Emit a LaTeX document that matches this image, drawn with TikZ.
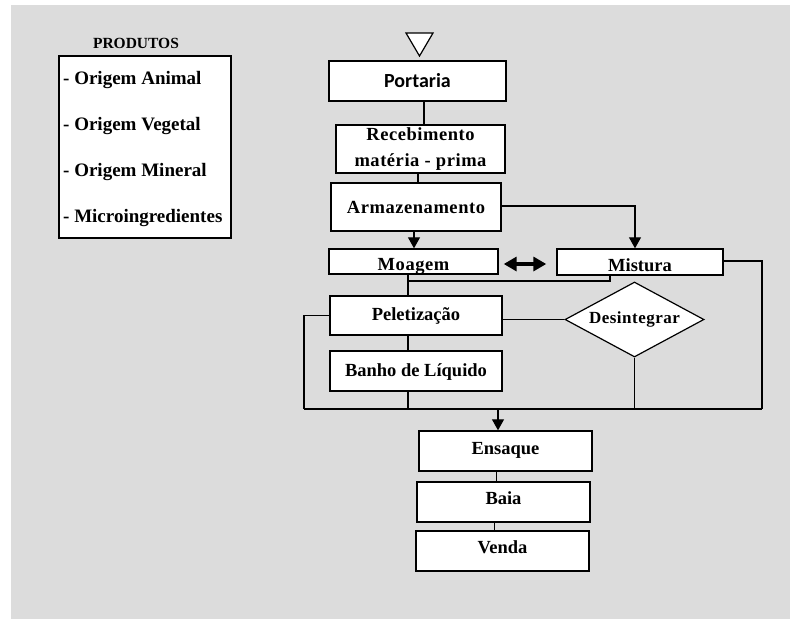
\documentclass[tikz,border=0pt]{standalone}
\usepackage{fontspec}
\setmainfont{Liberation Serif}
\newfontfamily\spacedfont[LetterSpace=3]{Liberation Serif Bold}
\newfontfamily\calfont{Carlito}
\usetikzlibrary{arrows.meta,shapes.geometric,calc}
\definecolor{bggray}{RGB}{220,220,220}
\begin{document}
\begin{tikzpicture}[x=1pt,y=-1pt,
  procbox/.style={draw=black,line width=1.4pt,fill=white,inner sep=0pt,
    font=\bfseries\fontsize{18.5}{22}\selectfont,text height=12.3pt,text depth=0pt},
  spbox/.style={procbox,font=\spacedfont\fontsize{18.5}{26}\selectfont,text height=12.2pt},
  conn/.style={line width=1.2pt},
  arr/.style={conn,-{Triangle[length=11pt,width=12pt]}},
  listtext/.style={anchor=base west,inner sep=0pt,font=\bfseries\fontsize{19}{22}\selectfont}]
\useasboundingbox (0,0) rectangle (790,619);
\fill[white] (0,0) rectangle (790,619);
\fill[bggray] (11,5) rectangle (790,619);

% Products list
\node[anchor=base,inner sep=0pt,font=\bfseries\fontsize{15.5}{18}\selectfont] (prodtitle) at (136,48) {PRODUTOS};
\node[draw=black,line width=1.4pt,fill=white,minimum width=172pt,minimum height=182pt,inner sep=0pt] (prodbox) at (145,147) {};
\node[listtext] (p1) at (63,84) {- Origem Animal};
\node[listtext] (p2) at (63,130) {- Origem Vegetal};
\node[listtext] (p3) at (63,176) {- Origem Mineral};
\node[listtext] (p4) at (63,222) {- Microingredientes};

% Start triangle
\draw[line width=1.2pt,fill=white] (406,33) -- (433,33) -- (419.5,56) -- cycle;

% Process boxes
\node[procbox,font=\calfont\bfseries\fontsize{20}{24}\selectfont,text height=12.9pt,minimum width=177pt,minimum height=40pt] (portaria) at (417.5,81) {Portaria};
\node[spbox,align=center,minimum width=169pt,minimum height=48pt,text height=,text depth=] (receb) at (420.5,149) {Recebimento\\matéria - prima};
\node[spbox,minimum width=170pt,minimum height=48pt] (armaz) at (416,207) {Armazenamento};
\node[spbox,text height=17.2pt,minimum width=169pt,minimum height=25pt] (moagem) at (413.5,261.5) {Moagem};
\node[procbox,text height=18.3pt,minimum width=166pt,minimum height=26pt] (mistura) at (640,262) {Mistura};
\node[procbox,text depth=2pt,minimum width=172pt,minimum height=39pt] (pelet) at (416,315.5) {Peletização};
\node[procbox,text depth=2pt,minimum width=172pt,minimum height=40pt] (banho) at (416,371) {Banho de Líquido};
\node[diamond,draw=black,line width=1.2pt,fill=white,inner sep=0pt,aspect=1.85,
  minimum width=139pt,minimum height=75pt,text height=11.3pt,text depth=3pt,
  font=\spacedfont\fontsize{17}{20}\selectfont] (desint) at (634.5,319.5) {Desintegrar};
\node[procbox,text depth=6pt,minimum width=173pt,minimum height=40pt] (ensaque) at (505.5,451) {Ensaque};
\node[procbox,text depth=7pt,minimum width=173pt,minimum height=40pt] (baia) at (503.5,502) {Baia};
\node[procbox,text depth=7pt,minimum width=173pt,minimum height=40pt] (venda) at (502.5,551) {Venda};

% Helper coordinates
\coordinate (j1) at (408,281);
\coordinate (busL) at (304,409);
\coordinate (busR) at (762,409);

% Connectors
\draw[conn] ([xshift=6.5pt]portaria.south) -- ([xshift=6.5pt]portaria.south |- receb.north);
\draw[conn] ([xshift=-2.5pt]receb.south) -- ([xshift=-2.5pt]receb.south |- armaz.north);
\draw[arr] ([xshift=-2pt]armaz.south) -- ([xshift=-2pt]armaz.south |- moagem.north);
\draw[arr] ([yshift=1pt]armaz.east) -| ([xshift=-5pt]mistura.north);

\coordinate (dA) at ([xshift=5pt,yshift=-2.5pt]moagem.east);
\coordinate (dB) at ([xshift=-10pt]mistura.west);
\draw[line width=4pt,{Triangle[length=13pt,width=14pt]}-{Triangle[length=13pt,width=14pt]}] (dA) -- (dA -| dB);

\draw[conn] ([xshift=-30pt]mistura.south) |- (j1);
\draw[conn] (moagem.south -| j1) -- (pelet.north -| j1);
\draw[conn] ([yshift=1pt]mistura.east) -| (busR);
\draw[conn] (pelet.west) -| (busL);
\draw[conn] (desint.west -| pelet.east) -- (desint.west);
\draw[conn] (desint.south) -- (desint.south |- busL);
\draw[conn] (pelet.south -| j1) -- (banho.north -| j1);
\draw[conn] (banho.south -| j1) -- (j1 |- busL);
\draw[conn] (busL) -- (busR);
\draw[arr] ([xshift=-7.5pt]ensaque.north |- busL) -- ([xshift=-7.5pt]ensaque.north);
\draw[conn] ([xshift=-9pt]ensaque.south) -- ([xshift=-9pt]ensaque.south |- baia.north);
\draw[conn] ([xshift=-9pt]baia.south) -- ([xshift=-9pt]baia.south |- venda.north);
\end{tikzpicture}
\end{document}
